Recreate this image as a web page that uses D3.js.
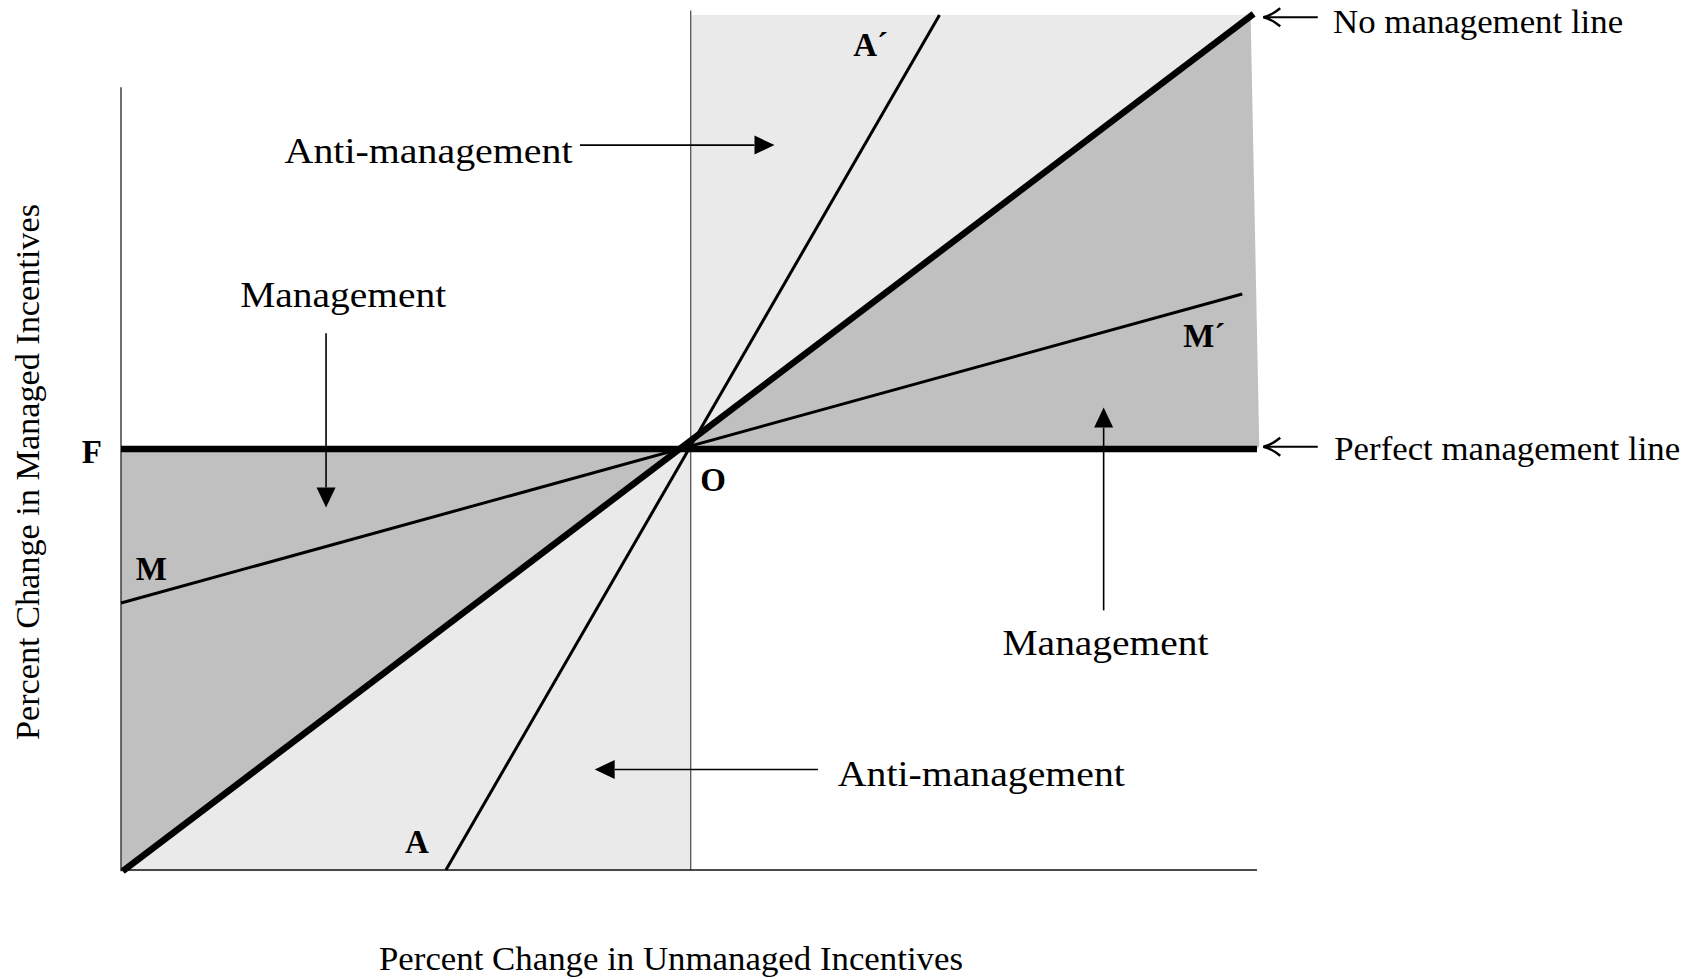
<!DOCTYPE html>
<html>
<head>
<meta charset="utf-8">
<script src="https://cdn.jsdelivr.net/npm/d3@7/dist/d3.min.js"></script>
<style>
  html, body { margin: 0; padding: 0; background: #fff; }
  svg { display: block; }
  text { font-family: "Liberation Serif", "Times New Roman", Times, serif; fill: #000; }
</style>
</head>
<body>
<svg id="chart" width="1703" height="979"></svg>
<script>
// ---------- DATA (diagram in "percent change" units, origin O = (0,0)) ----------
const xDomain = [-100, 100];
const yDomain = [-74.1, 76.4];

// Line definitions: pairs of endpoints
const noManagementLine   = [[-99.7, -74.3], [99.4, 76.6]];
const perfectMgmtLine    = [[-100, 0], [100, 0]];
const antiLine           = [[-42.8, -74.1], [44.1, 76.4]];   // A – A´
const mgmtLine           = [[-100, -27.1], [97.4, 27.3]];    // M – M´

// Shaded regions
const mgmtRegionLower  = [[-100, 0], [-1, 0], [-99.7, -74.3], [-100, -74.3]];
const mgmtRegionUpper  = [[-1, 0], [99.4, 76.6], [98.9, 75.2], [100.4, 0.5], [100, 0]];
const antiRegionUpper  = [[0.3, 76.4], [99.2, 76.4], [-1, 0], [0.3, 0]];
const antiRegionLower  = [[-99.7, -74.3], [0.3, -74.3], [0.3, 0], [-1, 0]];

// Axes
const leftAxis   = [[-100, 63.7], [-100, -74.3]];
const bottomAxis = [[-100, -74.1], [100, -74.1]];
const centerAxis = [[0.3, 77.2], [0.3, -74.1]];

// Text
const pointLabels = ["F", "M", "O", "A", "M\u00B4", "A\u00B4"];
const regionLabels = ["Anti-management", "Management", "Management", "Anti-management"];
const lineLabels = ["No management line", "Perfect management line"];
const xTitle = "Percent Change in Unmanaged Incentives";
const yTitle = "Percent Change in Managed Incentives";

// ---------- LAYOUT ----------
const svg = d3.select("#chart");
const x = d3.scaleLinear().domain(xDomain).range([121, 1257]);
const y = d3.scaleLinear().domain(yDomain).range([870, 15]);

const LIGHT = "#EAEAEA", DARK = "#C0C0C0";
const poly = pts => pts.map(p => [x(p[0]), y(p[1])]);
const lineGen = d3.line();

// regions
[[antiRegionUpper, LIGHT], [antiRegionLower, LIGHT], [mgmtRegionLower, DARK], [mgmtRegionUpper, DARK]]
  .forEach(([pts, c]) => {
    svg.append("path").attr("d", lineGen(poly(pts)) + "Z").attr("fill", c).attr("stroke", "none");
  });

// axes
svg.append("path").attr("d", lineGen(poly(leftAxis))).attr("stroke", "#333").attr("stroke-width", 1.4).attr("fill", "none");
svg.append("path").attr("d", lineGen(poly(centerAxis))).attr("stroke", "#555").attr("stroke-width", 1.3).attr("fill", "none");
svg.append("path").attr("d", lineGen(poly(bottomAxis))).attr("stroke", "#111").attr("stroke-width", 1.6).attr("fill", "none");

// thin lines
[antiLine, mgmtLine].forEach(l => {
  svg.append("path").attr("d", lineGen(poly(l))).attr("stroke", "#000").attr("stroke-width", 3).attr("fill", "none");
});
// thick lines
[perfectMgmtLine, noManagementLine].forEach(l => {
  svg.append("path").attr("d", lineGen(poly(l))).attr("stroke", "#000").attr("stroke-width", 6.5).attr("fill", "none");
});

// ---------- Annotation arrows (filled heads) ----------
const arrowsFilled = [
  { from: [-19.2, 53.5], to: [15.05, 53.5] },   // top anti-management
  { from: [-63.9, 20.4], to: [-63.9, -10.3] },  // left management
  { from: [73.0, -28.4], to: [73.0, 7.3] },     // right management
  { from: [22.7, -56.4], to: [-16.6, -56.4] }   // bottom anti-management
];
arrowsFilled.forEach(a => {
  const [x1, y1] = [x(a.from[0]), y(a.from[1])];
  const [x2, y2] = [x(a.to[0]), y(a.to[1])];
  const ang = Math.atan2(y2 - y1, x2 - x1);
  const L = 20, W = 9.5;
  const bx = x2 - L * Math.cos(ang), by = y2 - L * Math.sin(ang);
  svg.append("line").attr("x1", x1).attr("y1", y1).attr("x2", bx).attr("y2", by)
    .attr("stroke", "#000").attr("stroke-width", 1.6);
  const px = -Math.sin(ang), py = Math.cos(ang);
  svg.append("path")
    .attr("d", `M${x2},${y2}L${bx + px * W},${by + py * W}L${bx - px * W},${by - py * W}Z`)
    .attr("fill", "#000");
});

// ---------- Pointer arrows (open heads) to line labels ----------
const pointers = [
  { from: [110.7, 76.0], to: [101.1, 76.0] },
  { from: [110.7, 0.4], to: [101.1, 0.4] }
];
pointers.forEach(a => {
  const [x1, y1] = [x(a.from[0]), y(a.from[1])];
  const [x2, y2] = [x(a.to[0]), y(a.to[1])];
  svg.append("line").attr("x1", x1).attr("y1", y1).attr("x2", x2 + 1).attr("y2", y2)
    .attr("stroke", "#000").attr("stroke-width", 1.8);
  svg.append("path")
    .attr("d", `M${x2 + 17},${y2 - 9}Q${x2 + 7},${y2 - 1} ${x2},${y2}Q${x2 + 7},${y2 + 1} ${x2 + 17},${y2 + 9}`)
    .attr("fill", "none").attr("stroke", "#000").attr("stroke-width", 2.4);
});

// ---------- Text ----------
const regionLabelPos = [
  { x: -71.2, y: 50.4, w: 288 },
  { x: -79.0, y: 25.0, w: 206 },
  { x: 55.2, y: -36.2, w: 206 },
  { x: 26.2, y: -59.3, w: 287 }
];
regionLabels.forEach((t, i) => {
  const p = regionLabelPos[i];
  svg.append("text").attr("x", x(p.x)).attr("y", y(p.y))
    .attr("font-size", 35).attr("textLength", p.w).attr("lengthAdjust", "spacingAndGlyphs")
    .text(t);
});

const lineLabelPos = [
  { x: 113.4, y: 73.2, w: 290 },
  { x: 113.6, y: -1.9, w: 346 }
];
lineLabels.forEach((t, i) => {
  const p = lineLabelPos[i];
  svg.append("text").attr("x", x(p.x)).attr("y", y(p.y))
    .attr("font-size", 34).attr("textLength", p.w).attr("lengthAdjust", "spacingAndGlyphs")
    .text(t);
});

const pointLabelPos = [
  { x: -106.9, y: -2.5 },
  { x: -97.4, y: -23.1 },
  { x: 2.0, y: -7.4 },
  { x: -50.0, y: -71.1 },
  { x: 87.0, y: 18.0 },
  { x: 28.9, y: 69.2 }
];
pointLabels.forEach((t, i) => {
  const p = pointLabelPos[i];
  svg.append("text").attr("x", x(p.x)).attr("y", y(p.y))
    .attr("font-size", 33).attr("font-weight", "bold")
    .text(t);
});

// axis titles
svg.append("text").attr("x", 671).attr("y", 970).attr("text-anchor", "middle")
  .attr("font-size", 34.5).attr("textLength", 584).attr("lengthAdjust", "spacingAndGlyphs")
  .text(xTitle);
svg.append("text").attr("transform", "translate(39,472) rotate(-90)").attr("text-anchor", "middle")
  .attr("font-size", 34.5).attr("textLength", 536).attr("lengthAdjust", "spacingAndGlyphs")
  .text(yTitle);
</script>
</body>
</html>
